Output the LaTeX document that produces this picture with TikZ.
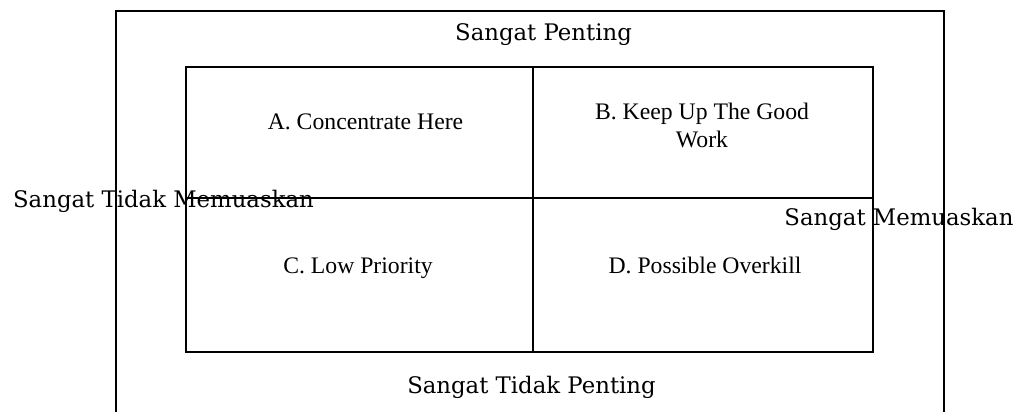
\documentclass[tikz,border=0pt]{standalone}
\usepackage{fontspec}
\setmainfont{Liberation Serif}
\newfontfamily\axisfont{DejaVu Serif}
\begin{document}
\begin{tikzpicture}[x=1pt,y=-1pt,
  frame/.style={line width=2.8pt},
  divider/.style={line width=1.1pt},
  quad/.style={font=\fontsize{23.7}{28}\selectfont, anchor=base, inner sep=0pt, align=center},
  axis/.style={font=\axisfont\fontsize{22.8}{27}\selectfont, anchor=base, inner sep=0pt}]
\useasboundingbox (0,0) rectangle (1018,412);
\clip (0,0) rectangle (1018,412);
\fill[white] (0,0) rectangle (1018,412);
% outer frame (bottom edge lies below the picture)
\draw[frame] (116,420) -- (116,11) -- (944,11) -- (944,420);
% inner frame
\coordinate (tl) at (186,67);
\coordinate (br) at (873,352);
\draw[frame] (tl) rectangle (br);
\coordinate (vt) at (533,67);
\coordinate (vb) at (533,352);
\coordinate (hl) at (186,198);
\coordinate (hr) at (873,198);
\draw[divider] (vt) -- (vb);
\draw[divider] (hl) -- (hr);
% quadrant labels
\node[quad] (qa) at (365.5,129) {A. Concentrate Here};
\node[quad] (qb) at (702,147) {B. Keep Up The Good\\Work};
\node[quad] (qc) at (358,273) {C. Low Priority};
\node[quad] (qd) at (705,273) {D. Possible Overkill};
% axis labels
\node[axis] (top) at (543.5,41) {Sangat Penting};
\node[axis] (bottom) at (531.5,393) {Sangat Tidak Penting};
\node[axis] (left) at (163.5,207) {Sangat Tidak Memuaskan};
\node[axis] (right) at (899,225) {Sangat Memuaskan};
\end{tikzpicture}
\end{document}
